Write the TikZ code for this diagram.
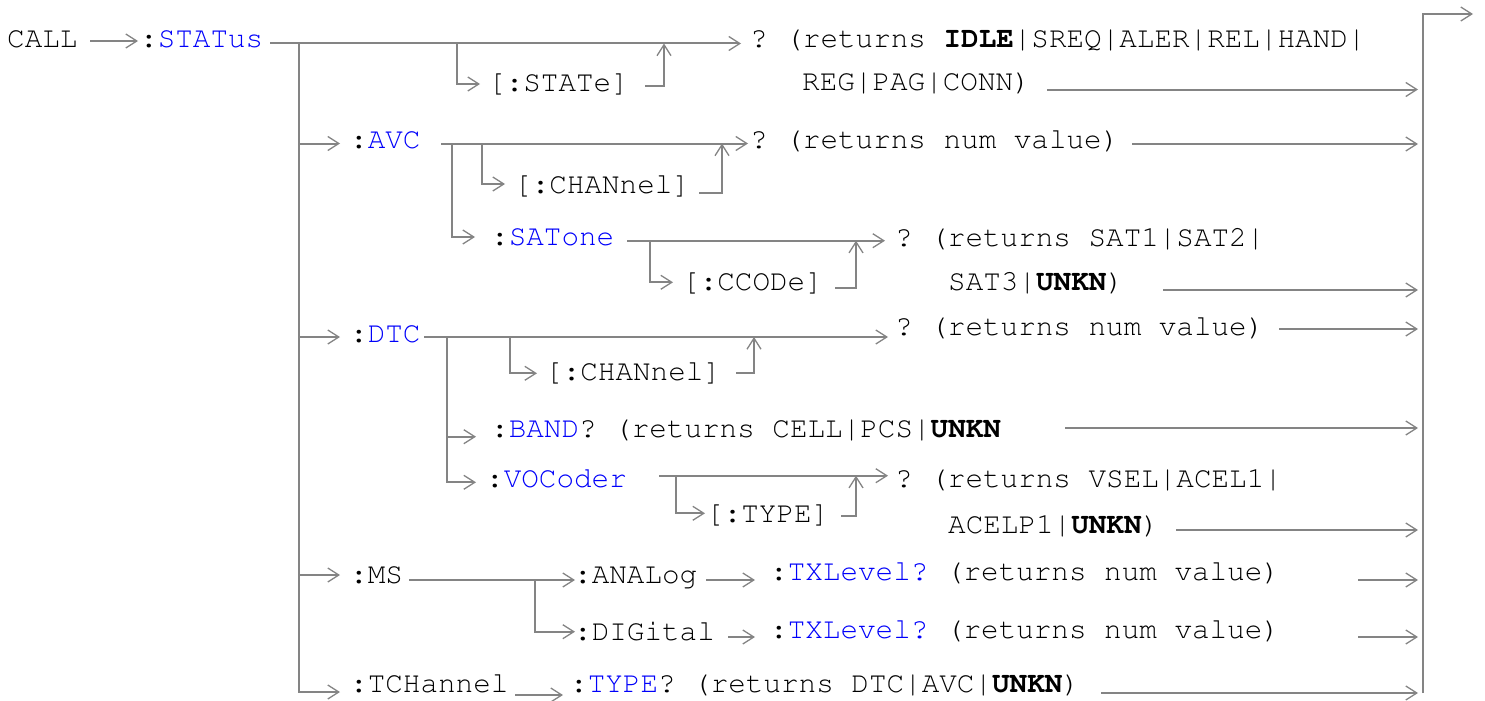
\documentclass[tikz,border=0pt]{standalone}
\usepackage[T1]{fontenc}
\usepackage{xcolor}
\usepackage{tikz}
\usetikzlibrary{arrows.meta}
\renewcommand{\ttdefault}{pcr}
\definecolor{kwblue}{RGB}{0,0,250}
\definecolor{wiregray}{RGB}{132,132,132}
\newcommand{\kw}[1]{\textcolor{kwblue}{#1}}

\begin{document}
\frenchspacing
\begin{tikzpicture}[x=1pt,y=-1pt,
    >={Straight Barb[length=11pt,width=14pt,line width=1.3pt]},
    txt/.style={font=\ttfamily\fontsize{29.3}{35}\selectfont,inner sep=0pt,anchor=base west},
    wire/.style={draw=wiregray,line width=2pt},
    flow/.style={wire,->}]
  \useasboundingbox (0,0) rectangle (1485,701);
  % command texts
  \node[txt] (call)    at (7,48)    {CALL};
  \node[txt] (status)  at (140,48)  {:\kw{STATus}};
  \node[txt] (stret)   at (750,48)  {? (returns \textbf{IDLE}|SREQ|ALER|REL|HAND|};
  \node[txt] (stret2)  at (802,90)  {REG|PAG|CONN)};
  \node[txt] (state)   at (488,91)  {[:STATe]};
  \node[txt] (avc)     at (350,148) {:\kw{AVC}};
  \node[txt] (avcret)  at (750,148) {? (returns num value)};
  \node[txt] (achan)   at (514,193) {[:CHANnel]};
  \node[txt] (sat)     at (491,245) {:\kw{SATone}};
  \node[txt] (satret)  at (895,246) {? (returns SAT1|SAT2|};
  \node[txt] (satret2) at (948,290) {SAT3|\textbf{UNKN})};
  \node[txt] (ccode)   at (682,290) {[:CCODe]};
  \node[txt] (dtc)     at (350,342) {:\kw{DTC}};
  \node[txt] (dtcret)  at (895,335) {? (returns num value)};
  \node[txt] (dchan)   at (545,380) {[:CHANnel]};
  \node[txt] (band)    at (491,437) {:\kw{BAND}? (returns CELL|PCS|\textbf{UNKN}};
  \node[txt] (voc)     at (486,487) {:\kw{VOCoder}};
  \node[txt] (vocret)  at (895,487) {? (returns VSEL|ACEL1|};
  \node[txt] (vtype)   at (706,522) {[:TYPE]};
  \node[txt] (vocret2) at (948,533) {ACELP1|\textbf{UNKN})};
  \node[txt] (ms)      at (350,583) {:MS};
  \node[txt] (analog)  at (574,583) {:ANALog};
  \node[txt] (atx)     at (770,580) {:\kw{TXLevel?} (returns num value)};
  \node[txt] (digital) at (574,640) {:DIGital};
  \node[txt] (dtx)     at (770,638) {:\kw{TXLevel?} (returns num value)};
  \node[txt] (tch)     at (350,692) {:TCHannel};
  \node[txt] (ttype)   at (570,692) {:\kw{TYPE}? (returns DTC|AVC|\textbf{UNKN})};

  % wire points
  \foreach \n/\x/\y in {c0/90/41, c1/138/41, s0/270/43.5, s1/741/43.5,
      t0/299/43.5, st0/457/43.5, st1/480/84, st2/645/86, st3/664/43.5,
      r0/1047/89.5, r1/1418/89.5, b0/1423/693, b1/1473/14,
      a1/340/143.5, a2/441/143.5, a3/748/143.5, a4/452/143.5, a5/475/237,
      a6/482/143.5, a7/505/184, a8/699/192.5, a9/722/143.5, a10/1132/144, a11/1418/144,
      s2/627/240.7, s3/885/240.7, s4/650/240.7, s5/673/282.3, s6/835/288, s7/856/240.7,
      s8/1163/290, s9/1418/290,
      d1/340/337, d2/424/337, d3/888/337, d4/447/337, d5/476/436.7, d6/476/482.3,
      d7/510/337, d8/537/373.3, d9/736/373, d10/754/337, d11/1279/329, d12/1418/329,
      d13/1065/428, d14/1418/428,
      v1/659/475.7, v2/888/475.7, v3/676/475.7, v4/705/513.3, v5/841/516, v6/856/475.7,
      v7/1176/530, v8/1418/530,
      m1/340/575, m2/409/580, m3/575/580, m4/535/580, m5/575/631.7,
      m6/706/580, m7/755/580, m8/728/637, m9/755/637,
      m10/1358/580, m11/1418/580, m12/1358/637, m13/1418/637,
      k1/340/692, k2/515/695, k3/563/695, k4/1101/693, k5/1418/693}
    \coordinate (\n) at (\x,\y);

  % STATus
  \draw[flow] (c0) -- (c1);
  \draw[flow] (s0) -- (s1);
  \draw[flow] (st0) |- (st1);
  \draw[flow] (st2) -| (st3);
  \draw[flow] (r0) -- (r1);
  \draw[flow] (b0) |- (b1);
  % trunk
  \draw[flow] (t0) |- (k1);
  \foreach \p in {a1,d1,m1} \draw[flow] (t0 |- \p) -- (\p);
  % AVC
  \draw[flow] (a2) -- (a3);
  \draw[flow] (a4) |- (a5);
  \draw[flow] (a6) |- (a7);
  \draw[flow] (a8) -| (a9);
  \draw[flow] (a10) -- (a11);
  \draw[flow] (s2) -- (s3);
  \draw[flow] (s4) |- (s5);
  \draw[flow] (s6) -| (s7);
  \draw[flow] (s8) -- (s9);
  % DTC
  \draw[flow] (d2) -- (d3);
  \draw[flow] (d4) |- (d6);
  \draw[flow] (d4 |- d5) -- (d5);
  \draw[flow] (d7) |- (d8);
  \draw[flow] (d9) -| (d10);
  \draw[flow] (d11) -- (d12);
  \draw[flow] (d13) -- (d14);
  \draw[flow] (v1) -- (v2);
  \draw[flow] (v3) |- (v4);
  \draw[flow] (v5) -| (v6);
  \draw[flow] (v7) -- (v8);
  % MS
  \draw[flow] (m2) -- (m3);
  \draw[flow] (m4) |- (m5);
  \draw[flow] (m6) -- (m7);
  \draw[flow] (m8) -- (m9);
  \draw[flow] (m10) -- (m11);
  \draw[flow] (m12) -- (m13);
  % TCHannel
  \draw[flow] (k2) -- (k3);
  \draw[flow] (k4) -- (k5);
\end{tikzpicture}
\end{document}
